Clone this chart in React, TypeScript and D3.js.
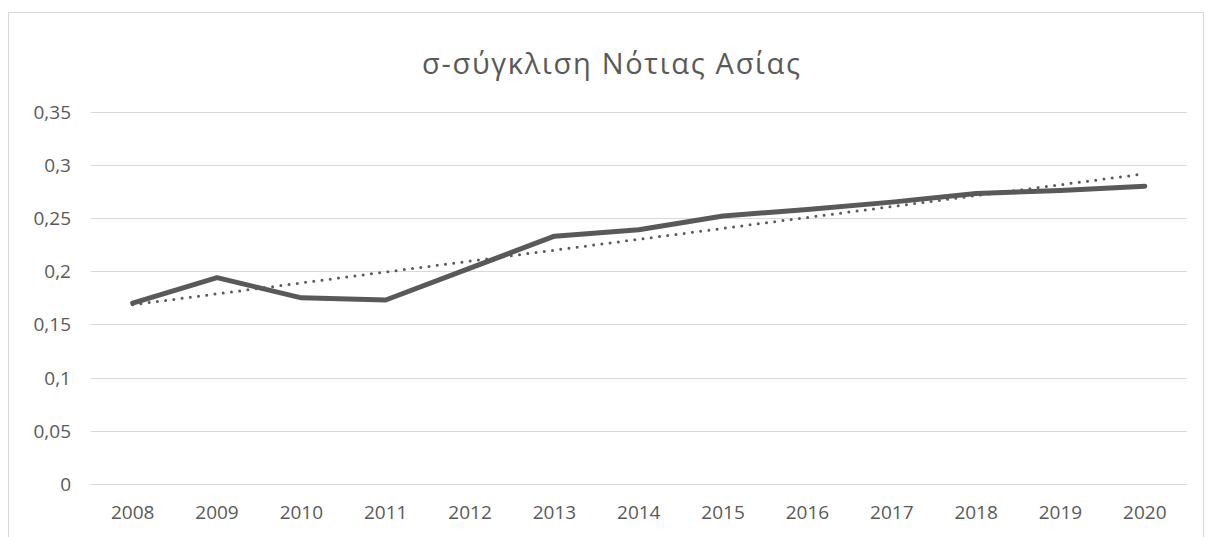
import React, { useEffect, useRef } from "react";
import * as d3 from "d3";

const title = "σ-σύγκλιση Νότιας Ασίας";
const years = ["2008", "2009", "2010", "2011", "2012", "2013", "2014", "2015", "2016", "2017", "2018", "2019", "2020"];
const values = [0.17, 0.194, 0.175, 0.173, 0.203, 0.233, 0.239, 0.252, 0.258, 0.265, 0.273, 0.276, 0.28];
const yTicks = [0, 0.05, 0.1, 0.15, 0.2, 0.25, 0.3, 0.35];

const W = 1212;
const H = 537;

export default function App() {
  const ref = useRef<SVGSVGElement>(null);

  useEffect(() => {
    const svg = d3.select(ref.current);
    svg.selectAll("*").remove();

    const left = 90.5, right = 1187, top = 111.7, bottom = 484;
    const x = d3.scaleBand<string>().domain(years).range([left, right]).padding(0);
    const y = d3.scaleLinear().domain([0, 0.35]).range([bottom, top]);
    const cx = (d: string) => (x(d) as number) + x.bandwidth() / 2;
    const font = "'Open Sans', sans-serif";
    const textColor = "#595959";

    // chart border
    svg.append("rect")
      .attr("x", 8.5).attr("y", 12.5)
      .attr("width", 1195).attr("height", 540)
      .attr("fill", "#fff").attr("stroke", "#d9d9d9").attr("stroke-width", 1);

    // title
    svg.append("text")
      .attr("x", 611).attr("y", 62)
      .attr("text-anchor", "middle").attr("dominant-baseline", "central")
      .attr("font-family", font).attr("font-size", 29).attr("fill", textColor)
      .attr("textLength", 378).attr("lengthAdjust", "spacing")
      .text(title);

    // gridlines
    svg.append("g").selectAll("line").data(yTicks).join("line")
      .attr("x1", left).attr("x2", right)
      .attr("y1", (d) => Math.round(y(d)) + 0.5).attr("y2", (d) => Math.round(y(d)) + 0.5)
      .attr("stroke", "#d9d9d9").attr("stroke-width", 1);

    // y labels
    const fmt = (v: number) => (v === 0 ? "0" : String(+v.toFixed(2)).replace(".", ","));
    svg.append("g").selectAll("text").data(yTicks).join("text")
      .attr("x", 71).attr("y", (d) => y(d))
      .attr("text-anchor", "end").attr("dominant-baseline", "central")
      .attr("font-family", font).attr("font-size", 19).attr("fill", textColor)
      .text(fmt);

    // x labels
    svg.append("g").selectAll("text").data(years).join("text")
      .attr("x", (d) => cx(d)).attr("y", 512)
      .attr("text-anchor", "middle").attr("dominant-baseline", "central")
      .attr("font-family", font).attr("font-size", 19).attr("fill", textColor)
      .text((d) => d);

    // main line
    const line = d3.line<number>().x((_, i) => cx(years[i])).y((d) => y(d));
    svg.append("path")
      .attr("d", line(values))
      .attr("fill", "none").attr("stroke", "#595959").attr("stroke-width", 5)
      .attr("stroke-linejoin", "round").attr("stroke-linecap", "round");

    // linear trend line (least squares over the series)
    const n = values.length;
    const idx = d3.range(n);
    const mx = d3.mean(idx) as number;
    const my = d3.mean(values) as number;
    const sxy = d3.sum(idx, (i) => (i - mx) * (values[i] - my));
    const sxx = d3.sum(idx, (i) => (i - mx) * (i - mx));
    const slope = sxy / sxx;
    const icpt = my - slope * mx;
    const trend = [icpt, icpt + slope * (n - 1)];
    svg.append("path")
      .attr("d", d3.line<number>().x((_, i) => cx(years[i === 0 ? 0 : n - 1])).y((d) => y(d))(trend))
      .attr("fill", "none").attr("stroke", "#595959").attr("stroke-width", 3)
      .attr("stroke-linecap", "round").attr("stroke-dasharray", "0 8.3");
  }, []);

  return (
    <svg
      ref={ref}
      width={W}
      height={H}
      style={{ position: "absolute", left: 0, top: 0, background: "#fff" }}
    />
  );
}
